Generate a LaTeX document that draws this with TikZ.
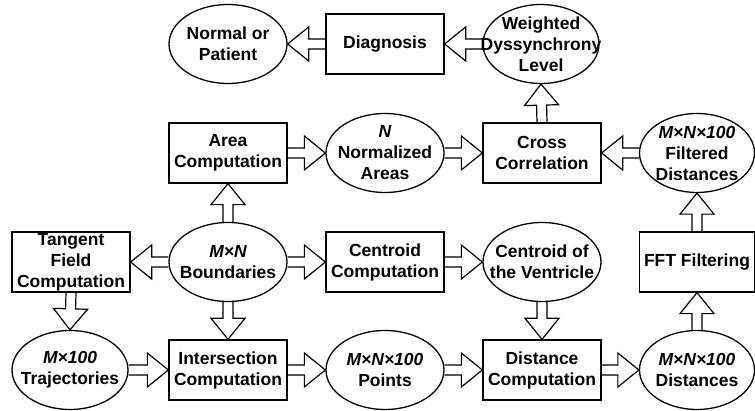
\documentclass[tikz,border=0pt]{standalone}
\usepackage{fontspec}
\setmainfont{Liberation Sans}
\usetikzlibrary{shapes.geometric,calc}
\tikzset{
  boxn/.style={draw, line width=1.3pt, rectangle, minimum width=118pt, minimum height=60pt, inner sep=0pt},
  elln/.style={draw, line width=1.3pt, ellipse, minimum width=118pt, minimum height=79pt, inner sep=0pt},
  txt/.style={align=center, font=\fontsize{17.5}{21}\selectfont\bfseries, inner sep=0pt},
  farr/.style={draw, line width=1.2pt, line join=miter},
}
\newcommand{\flexarr}[2]{%
  \coordinate (fh) at ($(#2)!21pt!(#1)$);
  \draw[farr] ($(#1)!5pt!90:(#2)$) -- ($(fh)!5pt!90:(#2)$) -- ($(fh)!17pt!90:(#2)$) -- (#2)
    -- ($(fh)!17pt!-90:(#2)$) -- ($(fh)!5pt!-90:(#2)$) -- ($(#1)!5pt!-90:(#2)$);
}
\begin{document}
\begin{tikzpicture}[x=1pt,y=1pt]
\useasboundingbox (0,0) rectangle (755,411);
% row 1
\node[elln] (normal) at (228,367) {};
\node[txt] (normalt) at (normal) {Normal or\\Patient};
\node[boxn,txt] (diag) at (385,367) {Diagnosis};
\node[elln, minimum width=116pt] (wdl) at (541,367) {};
\node[txt] (wdlt) at (wdl) {Weighted\\Dyssynchrony\\Level};
% row 2
\node[boxn,txt] (area) at (228,258) {Area\\Computation};
\node[elln] (nna) at (385,258) {};
\node[txt] (nnat) at (nna) {{\itshape N}\\Normalized\\Areas};
\node[boxn,txt] (cc) at (542,258) {Cross\\Correlation};
\node[elln, minimum width=115pt] (fd) at (697,258) {};
\node[txt] (fdt) at (fd) {{\itshape M×N×100}\\Filtered\\Distances};
% row 3
\node[boxn,txt] (tan) at (71,149) {Tangent\\Field\\Computation};
\node[elln] (bnd) at (228,149) {};
\node[txt] (bndt) at (bnd) {{\itshape M×N}\\Boundaries};
\node[boxn,txt] (cen) at (385,149) {Centroid\\Computation};
\node[elln] (cov) at (542,149) {};
\node[txt] (covt) at (cov) {Centroid of\\the Ventricle};
\node[boxn,txt, minimum width=115pt] (fft) at (697,149) {FFT Filtering};
% row 4
\node[elln, minimum width=116pt] (traj) at (70,41) {};
\node[txt] (trajt) at (traj) {{\itshape M×100}\\Trajectories};
\node[boxn,txt] (inter) at (228,41) {Intersection\\Computation};
\node[elln] (pts) at (385,41) {};
\node[txt] (ptst) at (pts) {{\itshape M×N×100}\\Points};
\node[boxn,txt] (dist) at (542,41) {Distance\\Computation};
\node[elln, minimum width=115pt] (dsts) at (697,41) {};
\node[txt] (dstst) at (dsts) {{\itshape M×N×100}\\Distances};
% arrows
\flexarr{diag.west}{normal.east}
\flexarr{wdl.west}{diag.east}
\flexarr{cc.north}{wdl.south}
\flexarr{area.east}{nna.west}
\flexarr{nna.east}{cc.west}
\flexarr{fd.west}{cc.east}
\flexarr{bnd.north}{area.south}
\flexarr{bnd.west}{tan.east}
\flexarr{bnd.east}{cen.west}
\flexarr{cen.east}{cov.west}
\flexarr{fft.north}{fd.south}
\flexarr{tan.south}{traj.north}
\flexarr{bnd.south}{inter.north}
\flexarr{cov.south}{dist.north}
\flexarr{dsts.north}{fft.south}
\flexarr{traj.east}{inter.west}
\flexarr{inter.east}{pts.west}
\flexarr{pts.east}{dist.west}
\flexarr{dist.east}{dsts.west}
\end{tikzpicture}
\end{document}
